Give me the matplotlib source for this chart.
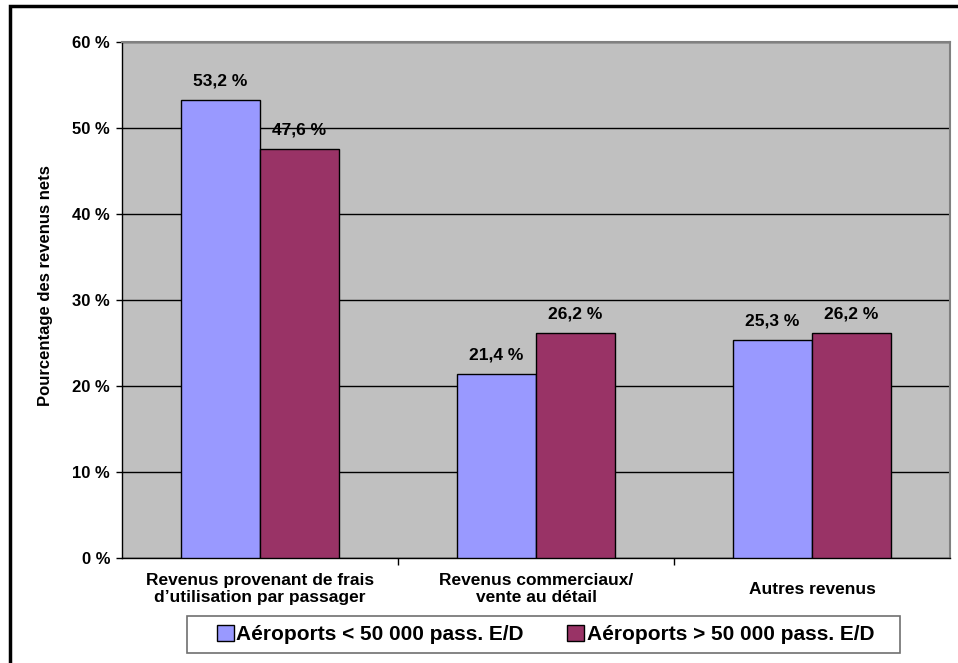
import matplotlib
matplotlib.use("Agg")
import matplotlib.pyplot as plt
from matplotlib.patches import Rectangle
import numpy as np

categories = ["Revenus provenant de frais\nd\u2019utilisation par passager",
              "Revenus commerciaux/\nvente au d\u00e9tail",
              "Autres revenus"]
small_airports = [53.2, 21.4, 25.3]
large_airports = [47.6, 26.2, 26.2]
series_names = ["A\u00e9roports < 50 000 pass. E/D", "A\u00e9roports > 50 000 pass. E/D"]
y_ticks = [0, 10, 20, 30, 40, 50, 60]

plt.rcParams['font.family'] = ['Liberation Sans', 'DejaVu Sans']
plt.rcParams['font.weight'] = 'bold'

W, H = 958, 663
PX = 72 / 100  # points per pixel at 100 dpi
fig = plt.figure(figsize=(W / 100, H / 100), dpi=100)
ax = fig.add_axes([122 / W, 1 - 558 / H, (950 - 122) / W, (558 - 42) / H])
ax.set_facecolor("#C0C0C0")

x = np.arange(len(categories))
bw = 0.286
b1 = ax.bar(x - bw / 2, small_airports, bw, color="#9999FF", edgecolor="black", linewidth=1, zorder=3,
            label=series_names[0])
b2 = ax.bar(x + bw / 2, large_airports, bw, color="#993366", edgecolor="black", linewidth=1, zorder=3,
            label=series_names[1])

for bars, vals in ((b1, small_airports), (b2, large_airports)):
    for r, v in zip(bars, vals):
        ax.annotate(f"{v:.1f} %".replace(".", ","), (r.get_x() + r.get_width() / 2, v),
                    xytext=(0, 19 * PX), textcoords="offset points", ha="center", va="center",
                    fontsize=12.5, fontweight="bold")

ax.set_xlim(-0.5, len(categories) - 0.5)
ax.set_ylim(0, 60)
ax.set_yticks(y_ticks)
ax.set_yticklabels([f"{t} %" for t in y_ticks], fontsize=12, fontweight="bold")
ax.yaxis.grid(True, color="black", linewidth=1, zorder=1)
ax.set_axisbelow(True)

# category labels centred under each group, tick marks at group boundaries
ax.set_xticks(x)
ax.set_xticklabels(categories, fontsize=12.5, fontweight="bold", linespacing=1.1, va="center")
ax.tick_params(axis="x", length=0, pad=31 * PX)
ax.set_xticks(np.arange(0.5, len(categories) - 0.5, 1), minor=True)
ax.tick_params(axis="x", which="minor", length=5, width=1, color="black")
ax.tick_params(axis="y", length=6 * PX, width=1, color="black", pad=6 * PX)

for side in ("left", "bottom"):
    ax.spines[side].set_color("black")
    ax.spines[side].set_linewidth(1)
for side in ("top", "right"):
    ax.spines[side].set_color("#808080")
    ax.spines[side].set_linewidth(1.5)

fig.text(46 / W, 1 - 286 / H, "Pourcentage des revenus nets", rotation=90,
         ha="center", va="center", fontsize=12, fontweight="bold")

# legend box
fig.patches.append(Rectangle((187 / W, 1 - 653 / H), (900 - 187) / W, (653 - 616) / H,
                             transform=fig.transFigure, facecolor="white",
                             edgecolor="#707070", linewidth=1.2, zorder=5))
leg = fig.legend(handles=[b1, b2], loc="center", ncol=2,
                 bbox_to_anchor=(545.5 / W, 1 - 634.5 / H),
                 prop={"size": 15, "weight": "bold"}, frameon=False,
                 handlelength=0.82, handleheight=0.82, handletextpad=0.12, columnspacing=2.1,
                 borderpad=0, borderaxespad=0)
leg.set_zorder(6)

# outer frame around the chart (right and bottom edges run off the canvas)
fig.patches.append(Rectangle((9.5 / W, -0.05), 1.0, 1 - 6.5 / H + 0.05, transform=fig.transFigure,
                             fill=False, edgecolor="black", linewidth=2.5, zorder=10))

fig.savefig("out.png", dpi=100)
